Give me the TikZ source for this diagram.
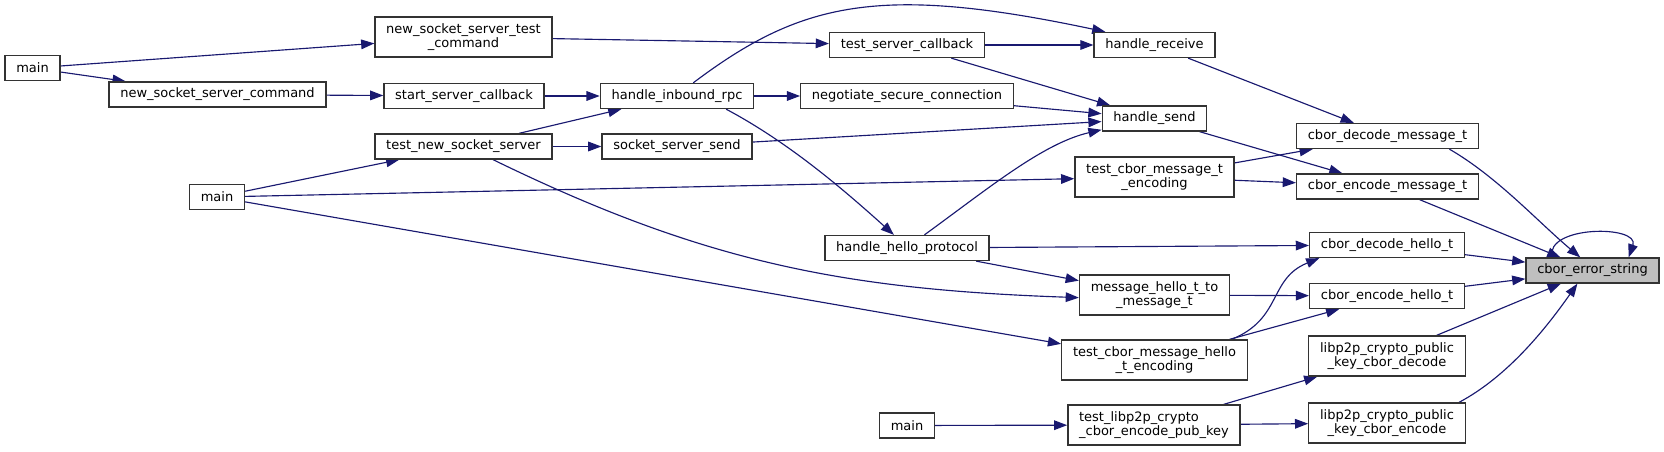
\documentclass[tikz,border=0pt]{standalone}
\usepackage{fontspec}
\setmainfont{DejaVu Sans}
\usepackage{xcolor}
\usepackage{tikz}
\usetikzlibrary{arrows.meta,backgrounds}
\usetikzlibrary{calc}
\pgfdeclarelayer{edgelayer}
\pgfdeclarelayer{nodelayer}
\pgfsetlayers{background,edgelayer,nodelayer,main}
\definecolor{edgeblue}{RGB}{25,25,112}
\definecolor{rootgrey}{RGB}{191,191,191}
\tikzstyle{fn}=[shape=rectangle,draw=black!80,fill=white,line width=0.75pt,inner xsep=6.4pt,inner ysep=2pt,minimum height=0.5cm,font=\fontsize{7.4}{8.1}\selectfont]
\tikzstyle{fn2}=[fn,align=center,minimum height=0.8cm]
\tikzstyle{root}=[fn,fill=rootgrey]
\tikzstyle{call}=[draw=edgeblue,line width=0.65pt,-{Triangle[length=7.5pt,width=5.5pt]}]

\begin{document}
\begin{tikzpicture}[x=0.02cm,y=0.02cm]
	\useasboundingbox (0,0) rectangle (1664,-452);
	\begin{pgfonlayer}{nodelayer}
		\node [style=fn] (main1) at (32.5, -68) {main};
		\node [style=fn2] (nsstc) at (463.5, -37) {new\_socket\_server\_test\\\_command};
		\node [style=fn] (nssc) at (217.5, -94.5) {new\_socket\_server\_command};
		\node [style=fn] (ssc) at (464, -96) {start\_server\_callback};
		\node [style=fn] (tnss) at (463.5, -146.5) {test\_new\_socket\_server};
		\node [style=fn] (main2) at (217, -197) {main};
		\node [style=fn] (tsc) at (907, -45) {test\_server\_callback};
		\node [style=fn] (hir) at (677, -96) {handle\_inbound\_rpc};
		\node [style=fn] (nsc) at (907, -96) {negotiate\_secure\_connection};
		\node [style=fn] (sss) at (677, -146.5) {socket\_server\_send};
		\node [style=fn] (hhp) at (907, -248) {handle\_hello\_protocol};
		\node [style=fn] (main3) at (907, -425.5) {main};
		\node [style=fn] (hr) at (1154.5, -45) {handle\_receive};
		\node [style=fn] (hs) at (1154.5, -118.5) {handle\_send};
		\node [style=fn2] (tcmte) at (1154.5, -177) {test\_cbor\_message\_t\\\_encoding};
		\node [style=fn2] (mhttmt) at (1154.5, -295) {message\_hello\_t\_to\\\_message\_t};
		\node [style=fn2] (tcmhte) at (1154.5, -360) {test\_cbor\_message\_hello\\\_t\_encoding};
		\node [style=fn2, align=left] (tlccepk) at (1154, -425) {test\_libp2p\_crypto\\\_cbor\_encode\_pub\_key};
		\node [style=fn] (cdmt) at (1387.5, -136) {cbor\_decode\_message\_t};
		\node [style=fn] (cemt) at (1387.5, -186.5) {cbor\_encode\_message\_t};
		\node [style=fn] (cdht) at (1387, -245) {cbor\_decode\_hello\_t};
		\node [style=fn] (ceht) at (1387, -296) {cbor\_encode\_hello\_t};
		\node [style=fn2] (lpkcd) at (1387, -356) {libp2p\_crypto\_public\\\_key\_cbor\_decode};
		\node [style=fn2] (lpkce) at (1387, -423) {libp2p\_crypto\_public\\\_key\_cbor\_encode};
		\node [style=root] (ces) at (1592.5, -270.5) {cbor\_error\_string};
	\end{pgfonlayer}
	\begin{pgfonlayer}{edgelayer}
		\draw [style=call] (main1) to (nsstc);
		\draw [style=call] (main1) to (nssc);
		\draw [style=call] (nssc) to (ssc);
		\draw [style=call] (nsstc) to (tsc);
		\draw [style=call] (ssc) to (hir);
		\draw [style=call] (tnss) to (hir);
		\draw [style=call] (tnss) to (sss);
		\draw [style=call] (tnss.-24) to[out=-26, in=178] (mhttmt.182);
		\draw [style=call] (main2) to (tnss);
		\draw [style=call] (main2) to (tcmte);
		\draw [style=call] (main2) to (tcmhte);
		\draw [style=call] (hir.39) .. controls +(37:134) and +(168:232) .. (hr.165);
		\draw [style=call] (hir) to (nsc);
		\draw [style=call] (hir.-15) .. controls +(-28:70) and +(138:70) .. (hhp.135);
		\draw [style=call] (tsc) to (hr);
		\draw [style=call] (tsc) to (hs);
		\draw [style=call] (nsc) to (hs);
		\draw [style=call] (sss) to (hs);
		\draw [style=call] (hhp.37) .. controls +(36:80) and +(193:60) .. (hs.192);
		\draw [style=call] (hhp) to (mhttmt);
		\draw [style=call] (hhp) to (cdht);
		\draw [style=call] (hr) to (cdmt);
		\draw [style=call] (hs) to (cemt);
		\draw [style=call] (tcmte) to (cdmt);
		\draw [style=call] (tcmte) to (cemt);
		\draw [style=call] (mhttmt) to (ceht);
		\draw [style=call] (tcmhte.15) .. controls +(22:55) and +(202:55) .. (cdht.191);
		\draw [style=call] (tcmhte) to (ceht);
		\draw [style=call] (main3) to (tlccepk);
		\draw [style=call] (tlccepk) to (lpkcd);
		\draw [style=call] (tlccepk) to (lpkce);
		\draw [style=call] (cdmt.-12) .. controls +(-30:55) and +(140:55) .. (ces.133);
		\draw [style=call] (cemt) to (ces);
		\draw [style=call] (cdht) to (ces);
		\draw [style=call] (ceht) to (ces);
		\draw [style=call] (lpkcd) to (ces);
		\draw [style=call] (lpkce.16) .. controls +(28:55) and +(235:55) .. (ces.221);
		\draw [style=call] (ces.162) .. controls (1545,-225) and (1640,-225) .. (ces.20);
	\end{pgfonlayer}
\end{tikzpicture}
\end{document}
